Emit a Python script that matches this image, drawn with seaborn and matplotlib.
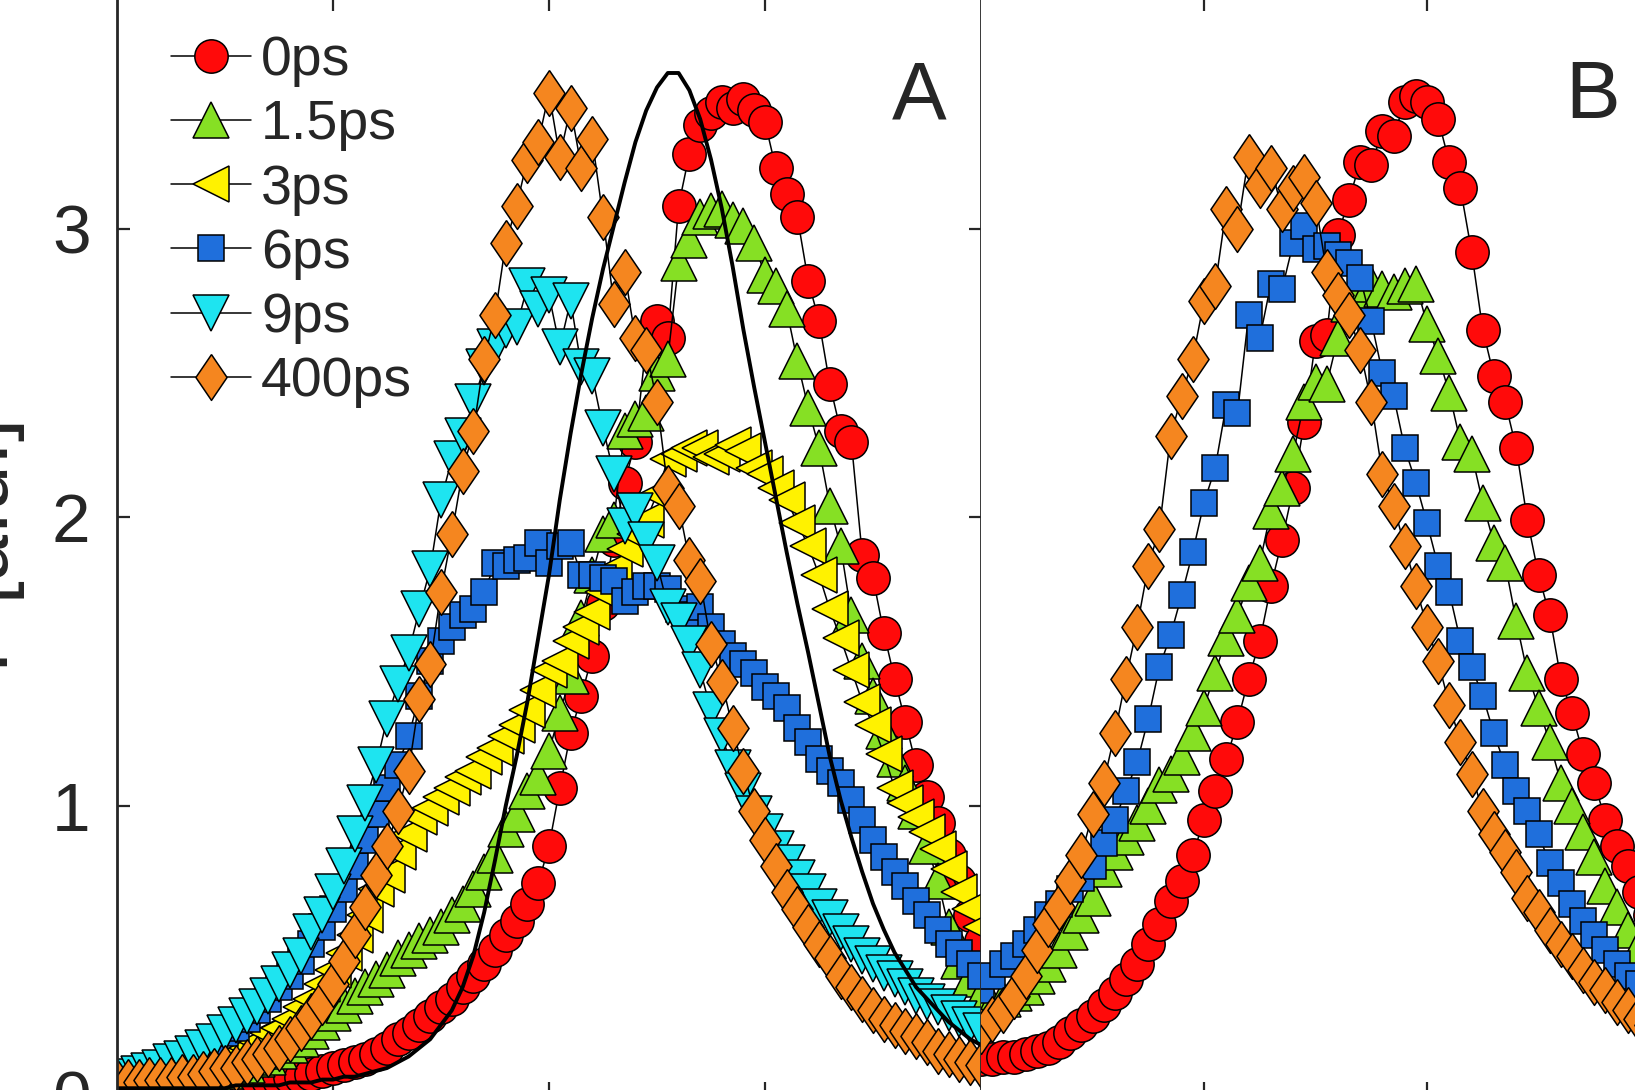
import numpy as np
import matplotlib
matplotlib.use("Agg")
import matplotlib.pyplot as plt
import seaborn as sns

# Abscissa of the two panels (same sampling step, in tick units)
x_a = np.round(np.arange(0, 4.0001, 0.05), 2)
x_b = np.round(np.arange(0, 3.0001, 0.05), 2)

labels = ["0ps", "1.5ps", "3ps", "6ps", "9ps", "400ps"]

# Panel A
red_a = [0.03, 0.03, 0.03, 0.03, 0.03, 0.03, 0.03, 0.03, 0.03, 0.04,
         0.04, 0.04, 0.04, 0.05, 0.05, 0.05, 0.06, 0.06, 0.07, 0.08,
         0.09, 0.10, 0.11, 0.12, 0.14, 0.16, 0.19, 0.21, 0.24, 0.27,
         0.30, 0.33, 0.37, 0.41, 0.45, 0.50, 0.55, 0.60, 0.66, 0.73,
         0.86, 1.06, 1.25, 1.38, 1.52, 1.70, 1.92, 2.12, 2.26, 2.60,
         2.68, 2.62, 3.08, 3.26, 3.36, 3.40, 3.44, 3.42, 3.45, 3.41,
         3.37, 3.21, 3.12, 3.04, 2.82, 2.68, 2.46, 2.30, 2.26, 1.87,
         1.79, 1.60, 1.44, 1.29, 1.14, 1.03, 0.94, 0.83, 0.74, 0.62,
         0.53]
green_a = [0.03, 0.03, 0.03, 0.04, 0.04, 0.04, 0.05, 0.05, 0.06, 0.07,
           0.08, 0.09, 0.10, 0.12, 0.13, 0.15, 0.17, 0.19, 0.22, 0.25,
           0.28, 0.31, 0.34, 0.37, 0.40, 0.43, 0.47, 0.50, 0.53, 0.55,
           0.58, 0.62, 0.66, 0.71, 0.77, 0.83, 0.92, 0.97, 1.05, 1.10,
           1.19, 1.32, 1.45, 1.65, 1.80, 1.94, 1.99, 2.30, 2.34, 2.36,
           2.50, 2.55, 2.88, 2.96, 3.04, 3.06, 3.07, 3.03, 3.01, 2.95,
           2.84, 2.80, 2.72, 2.54, 2.38, 2.24, 2.04, 1.90, 1.66, 1.50,
           1.38, 1.26, 1.16, 1.08, 0.98, 0.86, 0.74, 0.58, 0.46, 0.40,
           0.34]
yellow_a = [0.04, 0.04, 0.05, 0.05, 0.06, 0.06, 0.07, 0.08, 0.09, 0.10,
            0.12, 0.14, 0.16, 0.18, 0.21, 0.23, 0.26, 0.30, 0.33, 0.38,
            0.43, 0.49, 0.55, 0.62, 0.71, 0.76, 0.84, 0.90, 0.96, 0.99,
            1.03, 1.06, 1.10, 1.12, 1.17, 1.20, 1.24, 1.28, 1.33, 1.40,
            1.47, 1.50, 1.57, 1.62, 1.67, 1.74, 1.82, 1.89, 1.94, 1.99,
            2.08, 2.20, 2.22, 2.24, 2.24, 2.21, 2.22, 2.25, 2.23, 2.17,
            2.15, 2.10, 2.06, 1.98, 1.90, 1.80, 1.68, 1.58, 1.47, 1.36,
            1.28, 1.18, 1.06, 1.01, 0.96, 0.91, 0.85, 0.78, 0.70, 0.64,
            0.58]
blue_a = [0.05, 0.06, 0.07, 0.08, 0.09, 0.11, 0.12, 0.14, 0.16, 0.18,
          0.21, 0.23, 0.26, 0.29, 0.33, 0.37, 0.41, 0.46, 0.52, 0.58,
          0.64, 0.71, 0.79, 0.88, 0.97, 1.06, 1.14, 1.24, 1.38, 1.50,
          1.57, 1.62, 1.66, 1.68, 1.74, 1.84, 1.83, 1.85, 1.86, 1.91,
          1.84, 1.90, 1.91, 1.80, 1.80, 1.79, 1.78, 1.71, 1.74, 1.76,
          1.76, 1.75, 1.68, 1.66, 1.69, 1.62, 1.56, 1.52, 1.49, 1.46,
          1.41, 1.38, 1.34, 1.27, 1.22, 1.16, 1.12, 1.08, 1.02, 0.95,
          0.88, 0.82, 0.77, 0.72, 0.67, 0.62, 0.57, 0.52, 0.49, 0.45,
          0.41]
cyan_a = [0.05, 0.06, 0.07, 0.08, 0.09, 0.11, 0.12, 0.14, 0.16, 0.18,
          0.21, 0.24, 0.27, 0.30, 0.34, 0.38, 0.43, 0.48, 0.56, 0.62,
          0.70, 0.79, 0.90, 1.01, 1.14, 1.30, 1.42, 1.53, 1.68, 1.82,
          2.06, 2.20, 2.28, 2.40, 2.52, 2.59, 2.65, 2.66, 2.80, 2.72,
          2.77, 2.59, 2.75, 2.52, 2.49, 2.31, 2.15, 1.97, 2.02, 1.92,
          1.84, 1.69, 1.64, 1.56, 1.47, 1.33, 1.24, 1.13, 1.05, 0.97,
          0.91, 0.85, 0.80, 0.75, 0.70, 0.65, 0.61, 0.56, 0.52, 0.48,
          0.45, 0.42, 0.40, 0.37, 0.34, 0.32, 0.30, 0.28, 0.26, 0.24,
          0.22]
orange_a = [0.04, 0.04, 0.04, 0.05, 0.05, 0.05, 0.06, 0.06, 0.07, 0.08,
            0.09, 0.09, 0.11, 0.12, 0.14, 0.16, 0.19, 0.23, 0.27, 0.32,
            0.38, 0.46, 0.55, 0.65, 0.76, 0.86, 0.98, 1.12, 1.37, 1.49,
            1.74, 1.94, 2.16, 2.30, 2.55, 2.70, 2.95, 3.08, 3.24, 3.30,
            3.47, 3.25, 3.42, 3.21, 3.31, 3.04, 2.74, 2.85, 2.62, 2.58,
            2.40, 2.10, 2.04, 1.85, 1.78, 1.56, 1.43, 1.27, 1.12, 0.98,
            0.88, 0.79, 0.70, 0.64, 0.58, 0.52, 0.47, 0.41, 0.37, 0.33,
            0.29, 0.26, 0.24, 0.22, 0.20, 0.18, 0.15, 0.14, 0.12, 0.11,
            0.10]
# reference curve (solid black line) in panel A
ref_a = [0.02, 0.02, 0.02, 0.02, 0.02, 0.02, 0.02, 0.02, 0.02, 0.02,
         0.02, 0.03, 0.03, 0.03, 0.03, 0.03, 0.04, 0.04, 0.04, 0.05,
         0.05, 0.06, 0.06, 0.07, 0.08, 0.09, 0.11, 0.13, 0.16, 0.19,
         0.24, 0.29, 0.37, 0.48, 0.63, 0.81, 1.00, 1.17, 1.36, 1.58,
         1.80, 2.06, 2.29, 2.50, 2.69, 2.86, 3.01, 3.16, 3.30, 3.41,
         3.49, 3.54, 3.54, 3.48, 3.38, 3.24, 3.07, 2.87, 2.65, 2.45,
         2.26, 2.07, 1.88, 1.70, 1.53, 1.35, 1.17, 1.02, 0.89, 0.77,
         0.66, 0.57, 0.49, 0.43, 0.37, 0.33, 0.29, 0.25, 0.22, 0.19,
         0.17]

# Panel B
red_b = [0.12, 0.12, 0.13, 0.13, 0.14, 0.15, 0.16, 0.18, 0.21, 0.24,
         0.27, 0.31, 0.35, 0.40, 0.45, 0.52, 0.59, 0.67, 0.74, 0.83,
         0.95, 1.05, 1.16, 1.29, 1.44, 1.57, 1.76, 1.92, 2.10, 2.33,
         2.61, 2.63, 2.98, 3.10, 3.23, 3.22, 3.34, 3.32, 3.44, 3.46,
         3.44, 3.38, 3.23, 3.14, 2.92, 2.65, 2.49, 2.40, 2.24, 1.99,
         1.80, 1.66, 1.44, 1.32, 1.18, 1.08, 0.95, 0.86, 0.79, 0.70,
         0.62]
green_b = [0.30, 0.31, 0.33, 0.35, 0.37, 0.41, 0.45, 0.50, 0.56, 0.62,
           0.68, 0.78, 0.84, 0.89, 0.94, 1.00, 1.07, 1.11, 1.17, 1.25,
           1.34, 1.46, 1.58, 1.66, 1.77, 1.84, 2.02, 2.10, 2.22, 2.40,
           2.47, 2.46, 2.62, 2.74, 2.78, 2.81, 2.79, 2.78, 2.80, 2.81,
           2.67, 2.56, 2.43, 2.26, 2.22, 2.05, 1.91, 1.84, 1.64, 1.46,
           1.34, 1.22, 1.08, 1.00, 0.91, 0.82, 0.72, 0.65, 0.57, 0.51,
           0.46]
blue_b = [0.36, 0.41, 0.45, 0.48, 0.52, 0.57, 0.62, 0.66, 0.71, 0.75,
          0.79, 0.87, 0.95, 1.05, 1.15, 1.30, 1.48, 1.59, 1.73, 1.88,
          2.05, 2.17, 2.39, 2.36, 2.70, 2.62, 2.81, 2.79, 2.95, 3.01,
          2.93, 2.94, 2.91, 2.88, 2.83, 2.68, 2.50, 2.42, 2.24, 2.12,
          1.98, 1.83, 1.74, 1.57, 1.48, 1.38, 1.25, 1.14, 1.05, 0.98,
          0.90, 0.80, 0.73, 0.66, 0.60, 0.55, 0.50, 0.45, 0.41, 0.38,
          0.35]
orange_b = [0.22, 0.26, 0.29, 0.34, 0.41, 0.50, 0.59, 0.65, 0.74, 0.83,
            0.97, 1.08, 1.25, 1.44, 1.62, 1.83, 1.96, 2.28, 2.42, 2.55,
            2.75, 2.80, 3.07, 3.00, 3.25, 3.15, 3.21, 3.07, 3.14, 3.18,
            3.09, 2.85, 2.77, 2.70, 2.58, 2.40, 2.15, 2.04, 1.90, 1.76,
            1.62, 1.50, 1.35, 1.22, 1.11, 0.98, 0.90, 0.84, 0.77, 0.68,
            0.63, 0.57, 0.52, 0.48, 0.43, 0.39, 0.36, 0.32, 0.29, 0.26,
            0.24]

sns.set_style("ticks")
plt.rcParams["font.family"] = ["Liberation Sans", "DejaVu Sans"]

diamond = [(0, 1), (0.68, 0), (0, -1), (-0.68, 0), (0, 1)]
style = {
    "0ps": ("#ff0a0a", "o", 24),
    "1.5ps": ("#86e024", "^", 26),
    "3ps": ("#fff200", "<", 26),
    "6ps": ("#1f6fdc", "s", 19),
    "9ps": ("#1ee4f0", "v", 26),
    "400ps": ("#f5861f", diamond, 33),
}

fig = plt.figure(figsize=(16.35, 10.9), dpi=100)
ax_a = fig.add_axes([117 / 1635, -4 / 1090, 864 / 1635, 1096 / 1090])
ax_b = fig.add_axes([981 / 1635, -4 / 1090, 892 / 1635, 1096 / 1090])

series_a = [red_a, green_a, yellow_a, blue_a, cyan_a, orange_a]
for name, y in zip(labels, series_a):
    c, m, s = style[name]
    sns.lineplot(x=x_a, y=y, ax=ax_a, color="black", linewidth=1.1,
                 marker=m, markersize=s, markerfacecolor=c,
                 markeredgecolor="black", markeredgewidth=1.1,
                 label=name, estimator=None, sort=False)
sns.lineplot(x=x_a, y=ref_a, ax=ax_a, color="black", linewidth=2.8,
             estimator=None, sort=False, legend=False)

series_b = [("0ps", red_b), ("1.5ps", green_b), ("6ps", blue_b), ("400ps", orange_b)]
for name, y in series_b:
    c, m, s = style[name]
    sns.lineplot(x=x_b, y=y, ax=ax_b, color="black", linewidth=1.1,
                 marker=m, markersize=s, markerfacecolor=c,
                 markeredgecolor="black", markeredgewidth=1.1,
                 estimator=None, sort=False, legend=False)

for ax in (ax_a, ax_b):
    ax.set_xlim(0, 4)
    ax.set_ylim(0, 3.8)
    ax.set_xticks([1, 2, 3])
    ax.set_xlabel("")
    ax.set_ylabel("")
    for sp in ax.spines.values():
        sp.set_visible(True)
        sp.set_linewidth(2.0)
    ax.tick_params(direction="in", length=9, width=1.6, top=True, bottom=True,
                   labelbottom=False, labelsize=50, pad=19)

ax_a.set_yticks([0, 1, 2, 3])
ax_a.tick_params(axis="y", left=True, right=True)
ax_b.tick_params(axis="y", left=False, right=False, labelleft=False)
ax_b.spines["left"].set_visible(False)

ax_a.text(0.929, 0.8905, "A", transform=ax_a.transAxes, fontsize=59,
          ha="center", va="baseline")
ax_b.text(0.686, 0.8905, "B", transform=ax_b.transAxes, fontsize=59,
          ha="center", va="baseline")

h, l = ax_a.get_legend_handles_labels()
ax_a.legend(h, l, loc="upper left", bbox_to_anchor=(0.062, 0.966),
            frameon=False, fontsize=40, handlelength=1.45,
            handletextpad=0.18, labelspacing=0.22, borderpad=0,
            borderaxespad=0)

fig.text(25 / 1635, 1 - 418 / 1090, "I  [a.u.]", rotation=90,
         ha="right", va="top", fontsize=60)

fig.savefig("out.png", dpi=100)
